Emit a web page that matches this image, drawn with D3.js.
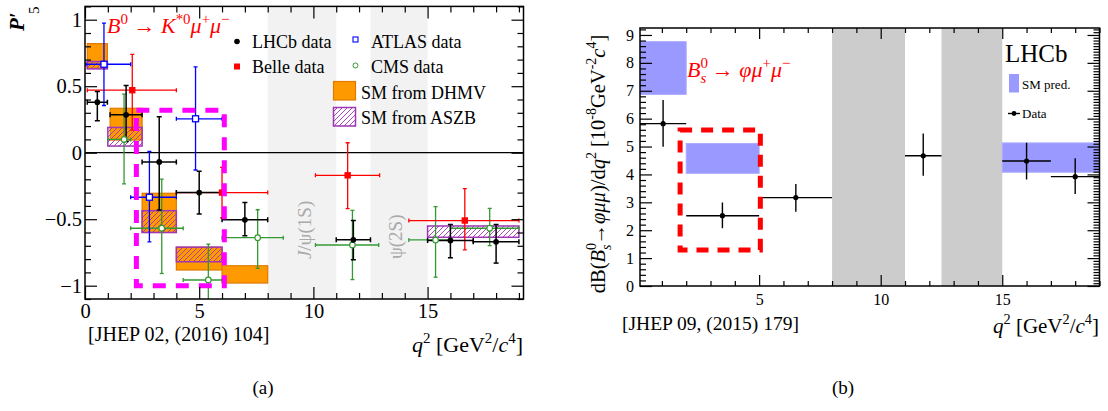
<!DOCTYPE html>
<html><head><meta charset="utf-8">
<script src="https://cdn.jsdelivr.net/npm/d3@7"></script>
<style>body{margin:0;background:#fff} svg{display:block} text{font-family:"Liberation Serif","Times New Roman",serif}</style>
</head><body><svg id="c" width="1108" height="411"></svg>
<script>
// ---------- Panel (a): P'5 ----------
const lhcbX  = [0.54, 1.8, 3.25, 5.0, 7.0, 11.75, 16.0, 18.0];
const lhcbXlo= [0.1, 1.1, 2.5, 4.0, 6.0, 11.0, 15.0, 17.0];
const lhcbXhi= [0.98, 2.5, 4.0, 6.0, 8.0, 12.5, 17.0, 19.0];
const lhcbY  = [0.38, 0.285, -0.07, -0.30, -0.505, -0.655, -0.66, -0.67];
const lhcbUp = [0.08, 0.22, 0.34, 0.16, 0.13, 0.145, 0.12, 0.13];
const lhcbDn = [0.14, 0.20, 0.36, 0.16, 0.12, 0.15, 0.13, 0.16];

const belleX  = [2.07, 6.0, 11.5, 16.63];
const belleXlo= [0.1, 4.0, 10.09, 14.18];
const belleXhi= [4.0, 8.0, 12.9, 19.0];
const belleY  = [0.47, -0.30, -0.17, -0.51];
const belleUp = [0.27, 0.19, 0.245, 0.24];
const belleDn = [0.30, 0.19, 0.25, 0.22];

const atlasX  = [0.83, 2.82, 4.84];
const atlasXlo= [0.04, 2.0, 4.0];
const atlasXhi= [2.0, 4.0, 6.0];
const atlasY  = [0.665, -0.335, 0.255];
const atlasUp = [0.31, 0.345, 0.39];
const atlasDn = [0.31, 0.335, 0.385];

const cmsX  = [1.71, 3.36, 5.4, 7.56, 11.71, 15.35, 17.72];
const cmsXlo= [1.0, 2.0, 4.3, 6.0, 10.09, 14.18, 16.0];
const cmsXhi= [2.0, 4.3, 6.0, 8.68, 12.86, 16.0, 19.0];
const cmsY  = [0.10, -0.568, -0.957, -0.639, -0.694, -0.656, -0.568];
const cmsUp = [0.34, 0.37, 0.27, 0.21, 0.26, 0.25, 0.15];
const cmsDn = [0.335, 0.34, 0.25, 0.23, 0.26, 0.28, 0.13];

const dhmvLo  = [0.1, 1.1, 2.5, 4.0, 6.0];
const dhmvHi  = [0.98, 2.5, 4.0, 6.0, 8.0];
const dhmvMin = [0.635, 0.095, -0.60, -0.882, -0.98];
const dhmvMax = [0.82, 0.334, -0.305, -0.711, -0.85];

const aszbLo  = [0.1, 1.0, 2.5, 4.0, 15.0];
const aszbHi  = [0.98, 2.5, 4.0, 6.0, 19.0];
const aszbMin = [0.63, 0.05, -0.60, -0.82, -0.636];
const aszbMax = [0.685, 0.19, -0.436, -0.71, -0.551];

const resoLo = [8.0, 12.5];
const resoHi = [11.0, 15.0];
const resoLabel = ["J/ψ(1S)", "ψ(2S)"];

const hlA = {x0: 2.25, x1: 6.1, y0: -1.0, y1: 0.32};

const xTicksA = [0, 5, 10, 15];
const yTicksA = [-1, -0.5, 0, 0.5, 1];

// ---------- Panel (b): Bs -> phi mu mu ----------
const bsX  = [1.05, 3.49, 6.51, 11.75, 16.0, 18.0];
const bsLo = [0.1, 2.0, 5.0, 11.0, 15.0, 17.0];
const bsHi = [2.0, 5.0, 8.0, 12.5, 17.0, 19.0];
const bsY  = [5.82, 2.52, 3.17, 4.67, 4.48, 3.92];
const bsUp = [0.85, 0.47, 0.49, 0.80, 0.66, 0.66];
const bsDn = [0.83, 0.45, 0.51, 0.72, 0.66, 0.62];

const smLo  = [0.1, 2.0, 15.0];
const smHi  = [2.0, 5.0, 19.0];
const smMin = [6.87, 4.04, 4.08];
const smMax = [8.76, 5.11, 5.13];

const hlB = {x0: 1.75, x1: 5.05, y0: 1.29, y1: 5.59};
const xTicksB = [5, 10, 15];
const yTicksB = [0,1,2,3,4,5,6,7,8,9];

// ======================================================
const F = "Liberation Serif";
const svg = d3.select("#c");
const defs = svg.append("defs");

const xA = d3.scaleLinear().domain([0, 19.2]).range([85, 523.5]);
const yA = d3.scaleLinear().domain([-1.1, 1.1]).range([299, 6.4]);
const xB = d3.scaleLinear().domain([0.1, 19]).range([640, 1099.5]);
const yB = d3.scaleLinear().domain([0, 9.25]).range([286, 28]);

function clip(id, X, Y) {
  const [x0,x1] = X.range(), [yb,yt] = Y.range();
  defs.append("clipPath").attr("id", id).append("rect")
    .attr("x", x0).attr("y", yt).attr("width", x1-x0).attr("height", yb-yt);
}
clip("clipA", xA, yA); clip("clipB", xB, yB);

const pat = defs.append("pattern").attr("id","hatch").attr("patternUnits","userSpaceOnUse")
  .attr("width",5).attr("height",5);
pat.append("path").attr("d","M-1,1 l2,-2 M0,5 l5,-5 M4,6 l2,-2")
  .attr("stroke","#a035b5").attr("stroke-width",0.9);

function zipPts(x, lo, hi, y, up, dn) {
  return x.map((v,i)=>({x:v, xlo:lo[i], xhi:hi[i], y:y[i], up:up[i], dn:dn[i]}));
}
function errBars(g, X, Y, pts, color, sw, cap) {
  pts.forEach(p => {
    const cx = X(p.x), cy = Y(p.y);
    const seg = (x1,y1,x2,y2)=>g.append("line").attr("x1",x1).attr("y1",y1).attr("x2",x2).attr("y2",y2)
      .attr("stroke",color).attr("stroke-width",sw);
    seg(X(p.xlo), cy, X(p.xhi), cy);
    seg(cx, Y(p.y+p.up), cx, Y(p.y-p.dn));
    if (cap) {
      seg(X(p.xlo), cy-cap, X(p.xlo), cy+cap);
      seg(X(p.xhi), cy-cap, X(p.xhi), cy+cap);
      seg(cx-cap, Y(p.y+p.up), cx+cap, Y(p.y+p.up));
      seg(cx-cap, Y(p.y-p.dn), cx+cap, Y(p.y-p.dn));
    }
  });
}

function rich(t, segs, fs) {
  let cur = 0, prev = null;
  segs.forEach(s => {
    const lvl = s.s || 0;
    const target = lvl === 1 ? -0.42*fs : (lvl === -1 ? 0.28*fs : 0);
    const ts = t.append("tspan").text(s.t)
      .attr("font-size", lvl ? fs*0.68 : fs)
      .attr("font-style", s.i ? "italic" : "normal");
    if (target - cur !== 0) ts.attr("dy", target - cur);
    if (s.stack && prev) ts.attr("dx", -prev.node().getComputedTextLength());
    if (s.dx) ts.attr("dx", s.dx);
    cur = target; prev = ts;
  });
  return t;
}

function axes(g, X, Y, o) {
  const [x0,x1] = X.range(), [yb,yt] = Y.range();
  const style = (a, fs) => {
    a.select(".domain").remove();
    a.selectAll("line").attr("stroke","#000").attr("stroke-width",1.2);
    a.selectAll("text").attr("font-family",F).attr("font-size",fs).attr("fill","#000");
  };
  const mk = (axis, tr, vals, size, fmt, pad, fs) => {
    const a = g.append("g").attr("transform", tr)
      .call(axis.tickValues(vals).tickSize(-size).tickSizeOuter(0).tickPadding(pad).tickFormat(fmt));
    style(a, fs); return a;
  };
  const fmt = d3.format("~g");
  mk(d3.axisBottom(X), `translate(0,${yb})`, o.xMaj, o.xMajL, fmt, o.xPad, o.fs);
  mk(d3.axisBottom(X), `translate(0,${yb})`, o.xMin, o.xMinL, ()=>"", 0, o.fs);
  mk(d3.axisTop(X), `translate(0,${yt})`, o.xMaj, o.xMajL, ()=>"", 0, o.fs);
  mk(d3.axisTop(X), `translate(0,${yt})`, o.xMin, o.xMinL, ()=>"", 0, o.fs);
  mk(d3.axisLeft(Y), `translate(${x0},0)`, o.yMaj, o.yMajL, fmt, o.yPad, o.fs);
  mk(d3.axisLeft(Y), `translate(${x0},0)`, o.yMin, o.yMinL, ()=>"", 0, o.fs);
  mk(d3.axisRight(Y), `translate(${x1},0)`, o.yMaj, o.yMajL, ()=>"", 0, o.fs);
  mk(d3.axisRight(Y), `translate(${x1},0)`, o.yMinR || o.yMin, o.yMinL, ()=>"", 0, o.fs);
  g.append("rect").attr("x",x0).attr("y",yt).attr("width",x1-x0).attr("height",yb-yt)
    .attr("fill","none").attr("stroke","#000").attr("stroke-width",1.5);
}

// ================= Panel A =================
const gA = svg.append("g");
const pA = gA.append("g").attr("clip-path","url(#clipA)");
pA.selectAll(".band").data(resoLo.map((d,i)=>[d,resoHi[i]])).join("rect")
  .attr("x",d=>xA(d[0])).attr("width",d=>xA(d[1])-xA(d[0]))
  .attr("y",yA(1.1)).attr("height",yA(-1.1)-yA(1.1)).attr("fill","#f2f2f2");
resoLabel.forEach((lab,i)=>{
  const xc = xA((resoLo[i]+resoHi[i])/2) + (i===0 ? 2 : -4);
  const t = gA.append("text").attr("transform",`translate(${xc+7},${yA(-0.8)}) rotate(-90)`)
    .attr("fill","#aaaaaa").attr("font-size",19);
  if (i===0) rich(t,[{t:"J",i:true},{t:"/ψ(1S)"}],19); else t.text(lab);
});
pA.append("line").attr("x1",xA(0)).attr("x2",xA(19.2)).attr("y1",yA(0)).attr("y2",yA(0))
  .attr("stroke","#000").attr("stroke-width",1.2);

pA.selectAll(".dhmv").data(dhmvLo.map((d,i)=>i)).join("rect")
  .attr("x",i=>xA(dhmvLo[i])).attr("width",i=>xA(dhmvHi[i])-xA(dhmvLo[i]))
  .attr("y",i=>yA(dhmvMax[i])).attr("height",i=>yA(dhmvMin[i])-yA(dhmvMax[i]))
  .attr("fill","#ff9900").attr("stroke","#e07a00").attr("stroke-width",1.2);
pA.selectAll(".aszb").data(aszbLo.map((d,i)=>i)).join("rect")
  .attr("x",i=>xA(aszbLo[i])).attr("width",i=>xA(aszbHi[i])-xA(aszbLo[i]))
  .attr("y",i=>yA(aszbMax[i])).attr("height",i=>yA(aszbMin[i])-yA(aszbMax[i]))
  .attr("fill","url(#hatch)").attr("stroke","#a035b5").attr("stroke-width",1.5);

errBars(pA, xA, yA, zipPts(cmsX,cmsXlo,cmsXhi,cmsY,cmsUp,cmsDn), "#339933", 1.3, 2);
errBars(pA, xA, yA, zipPts(belleX,belleXlo,belleXhi,belleY,belleUp,belleDn), "#ff0000", 1.3, 2);
errBars(pA, xA, yA, zipPts(atlasX,atlasXlo,atlasXhi,atlasY,atlasUp,atlasDn), "#0000ff", 1.3, 2);
errBars(pA, xA, yA, zipPts(lhcbX,lhcbXlo,lhcbXhi,lhcbY,lhcbUp,lhcbDn), "#000000", 1.5, 2.5);
cmsX.forEach((x,i)=>pA.append("circle").attr("cx",xA(x)).attr("cy",yA(cmsY[i])).attr("r",2.8)
  .attr("fill","#fff").attr("stroke","#339933").attr("stroke-width",1.2));
belleX.forEach((x,i)=>pA.append("rect").attr("x",xA(x)-3.2).attr("y",yA(belleY[i])-3.2)
  .attr("width",6.4).attr("height",6.4).attr("fill","#ff0000"));
atlasX.forEach((x,i)=>pA.append("rect").attr("x",xA(x)-3).attr("y",yA(atlasY[i])-3)
  .attr("width",6).attr("height",6).attr("fill","#fff").attr("stroke","#0000ff").attr("stroke-width",1.3));
lhcbX.forEach((x,i)=>pA.append("circle").attr("cx",xA(x)).attr("cy",yA(lhcbY[i])).attr("r",2.9).attr("fill","#000"));

gA.append("rect").attr("x",xA(hlA.x0)).attr("y",yA(hlA.y1))
  .attr("width",xA(hlA.x1)-xA(hlA.x0)).attr("height",yA(hlA.y0)-yA(hlA.y1))
  .attr("fill","none").attr("stroke","#ff00ff").attr("stroke-width",5).attr("stroke-dasharray","13,10");

// legend
gA.append("circle").attr("cx",237).attr("cy",41.5).attr("r",2.8).attr("fill","#000");
gA.append("text").attr("x",252).attr("y",47.5).attr("font-size",18).text("LHCb data");
gA.append("rect").attr("x",234).attr("y",63.5).attr("width",6).attr("height",6).attr("fill","#ff0000");
gA.append("text").attr("x",252).attr("y",73).attr("font-size",18).text("Belle data");
gA.append("rect").attr("x",353).attr("y",37).attr("width",5).attr("height",5).attr("fill","#fff").attr("stroke","#0000ff").attr("stroke-width",1.1);
gA.append("text").attr("x",371).attr("y",47.5).attr("font-size",18).text("ATLAS data");
gA.append("circle").attr("cx",355.5).attr("cy",65.5).attr("r",2.5).attr("fill","#fff").attr("stroke","#339933").attr("stroke-width",1);
gA.append("text").attr("x",371).attr("y",73).attr("font-size",18).text("CMS data");
gA.append("rect").attr("x",333.5).attr("y",81.5).attr("width",22).attr("height",18.5).attr("fill","#ff9900").attr("stroke","#e07a00").attr("stroke-width",1.2);
gA.append("text").attr("x",361).attr("y",98.5).attr("font-size",18).text("SM from DHMV");
gA.append("rect").attr("x",333.5).attr("y",107.5).attr("width",22).attr("height",18.5).attr("fill","url(#hatch)").attr("stroke","#a035b5").attr("stroke-width",1.5);
gA.append("text").attr("x",361).attr("y",124).attr("font-size",18).text("SM from ASZB");

rich(gA.append("text").attr("x",107).attr("y",33).attr("fill","#ff0000"),
  [{t:"B",i:true},{t:"0",s:1},{t:" → "},{t:"K",i:true},{t:"*0",s:1},{t:"μ",i:true},{t:"+",s:1},{t:"μ",i:true},{t:"−",s:1}], 22);

axes(gA, xA, yA, {
  xMaj: xTicksA, xMin: d3.range(0,20).filter(v=>v%5!==0), xMajL: 12, xMinL: 6, xPad: 4,
  yMaj: yTicksA, yMin: d3.range(-11,12).filter(i=>i%5!==0).map(i=>i/10), yMajL: 12, yMinL: 6, yPad: 3, fs: 20.5
});

const gy = gA.append("g").attr("transform","translate(24,31) rotate(-90)");
gy.append("text").attr("font-size",21).attr("font-style","italic").attr("font-weight","bold").text("P′");
gy.append("text").attr("x",17).attr("y",15).attr("font-size",15).text("5");

rich(gA.append("text").attr("x",523).attr("y",352).attr("text-anchor","end"),
  [{t:"q",i:true},{t:"2",s:1},{t:" [GeV"},{t:"2",s:1},{t:"/"},{t:"c",i:true},{t:"4",s:1},{t:"]"}], 22);
gA.append("text").attr("x",88).attr("y",341).attr("font-size",20).text("[JHEP 02, (2016) 104]");
svg.append("text").attr("x",263).attr("y",394).attr("text-anchor","middle").attr("font-size",19).text("(a)");

// ================= Panel B =================
const gB = svg.append("g");
const pB = gB.append("g").attr("clip-path","url(#clipB)");
pB.selectAll(".band").data(resoLo.map((d,i)=>[d,resoHi[i]])).join("rect")
  .attr("x",d=>xB(d[0])).attr("width",d=>xB(d[1])-xB(d[0]))
  .attr("y",yB(9.25)).attr("height",yB(0)-yB(9.25)).attr("fill","#cccccc");
pB.selectAll(".sm").data(smLo.map((d,i)=>i)).join("rect")
  .attr("x",i=>xB(smLo[i])).attr("width",i=>xB(smHi[i])-xB(smLo[i]))
  .attr("y",i=>yB(smMax[i])).attr("height",i=>yB(smMin[i])-yB(smMax[i]))
  .attr("fill","#9999ff").attr("stroke","#aaaaff").attr("stroke-width",1);
errBars(pB, xB, yB, zipPts(bsX,bsLo,bsHi,bsY,bsUp,bsDn), "#000", 1.4, 0);
bsX.forEach((x,i)=>pB.append("circle").attr("cx",xB(x)).attr("cy",yB(bsY[i])).attr("r",2.6).attr("fill","#000"));

gB.append("rect").attr("x",xB(hlB.x0)).attr("y",yB(hlB.y1))
  .attr("width",xB(hlB.x1)-xB(hlB.x0)).attr("height",yB(hlB.y0)-yB(hlB.y1))
  .attr("fill","none").attr("stroke","#ff0000").attr("stroke-width",5).attr("stroke-dasharray","12,9");

rich(gB.append("text").attr("x",687).attr("y",77).attr("fill","#ff0000"),
  [{t:"B",i:true},{t:"0",s:1},{t:"s",s:-1,i:true,stack:true},{t:" → "},{t:"φμ",i:true},{t:"+",s:1},{t:"μ",i:true},{t:"−",s:1}], 22);

gB.append("text").attr("x",1005).attr("y",62).attr("font-size",25).text("LHCb");
gB.append("rect").attr("x",1009).attr("y",74).attr("width",10).attr("height",18.5).attr("fill","#9999ff");
gB.append("text").attr("x",1022).attr("y",89).attr("font-size",13).text("SM pred.");
gB.append("line").attr("x1",1008).attr("x2",1020).attr("y1",113.5).attr("y2",113.5).attr("stroke","#000").attr("stroke-width",1.4);
gB.append("circle").attr("cx",1014).attr("cy",113.5).attr("r",2.4).attr("fill","#000");
gB.append("text").attr("x",1022).attr("y",118).attr("font-size",13).text("Data");

axes(gB, xB, yB, {
  xMaj: xTicksB, xMin: d3.range(1,20).filter(v=>v%5!==0), xMajL: 11, xMinL: 5, xPad: 8,
  yMaj: yTicksB, yMin: d3.range(0,47).filter(i=>i%5!==0).map(i=>i/5),
  yMinR: d3.range(0,93).filter(i=>i%10!==0).map(i=>i/10), yMajL: 12, yMinL: 6, yPad: 6, fs: 16
});

const gyB = gB.append("text").attr("transform","translate(605,164) rotate(-90)").attr("text-anchor","middle");
rich(gyB, [{t:"dB("},{t:"B",i:true},{t:"0",s:1},{t:"s",s:-1,i:true,stack:true},{t:"→"},{t:"φμμ",i:true},{t:")/d"},
  {t:"q",i:true},{t:"2",s:1},{t:" [10"},{t:"-8",s:1},{t:"GeV"},{t:"-2",s:1},{t:"c",i:true},{t:"4",s:1},{t:"]"}], 20.5);

rich(gB.append("text").attr("x",1099).attr("y",333).attr("text-anchor","end"),
  [{t:"q",i:true},{t:"2",s:1},{t:" [GeV"},{t:"2",s:1},{t:"/"},{t:"c",i:true},{t:"4",s:1},{t:"]"}], 21);
gB.append("text").attr("x",622).attr("y",330).attr("font-size",19.5).text("[JHEP 09, (2015) 179]");
svg.append("text").attr("x",843).attr("y",394).attr("text-anchor","middle").attr("font-size",19).text("(b)");
</script></body></html>
